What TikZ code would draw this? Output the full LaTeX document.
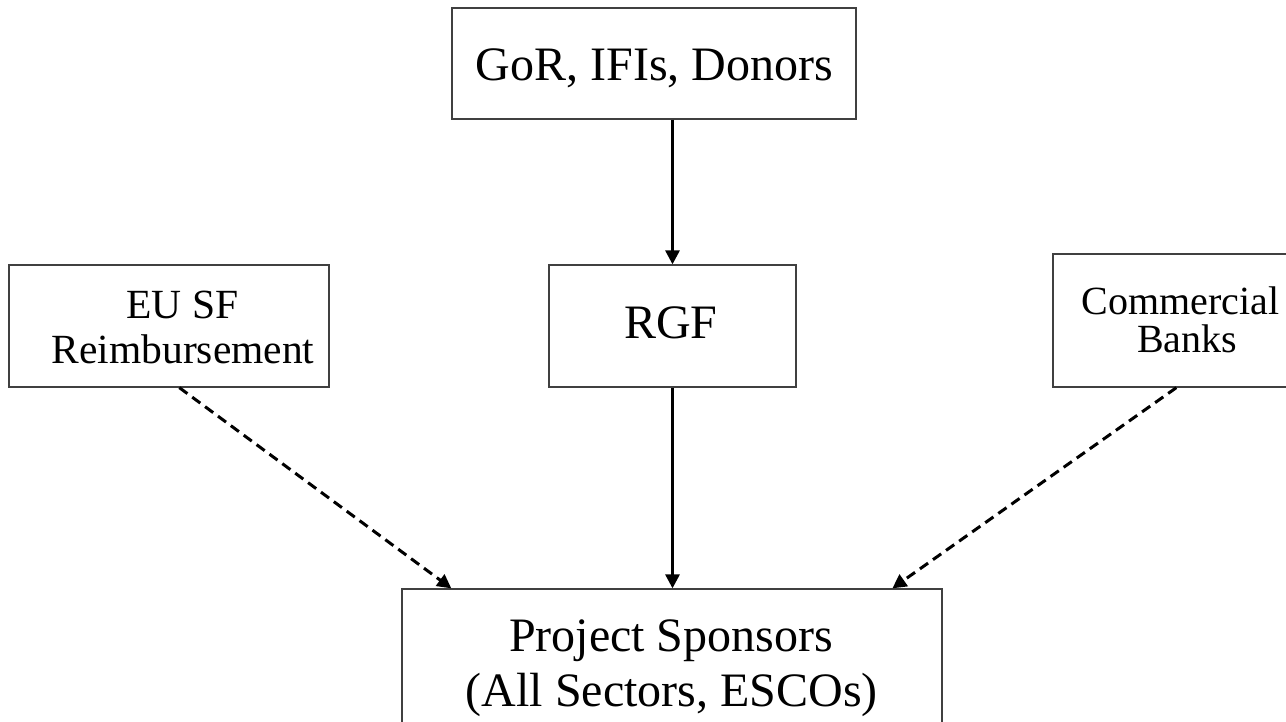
\documentclass[tikz,border=0pt]{standalone}
\usepackage{fontspec}
\setmainfont{Liberation Serif}
\usetikzlibrary{arrows.meta,calc}
\tikzset{
  box/.style={draw=black!75, line width=1.3pt, rectangle, inner sep=0pt, fill=none},
  bigtxt/.style={font=\fontsize{48}{55}\selectfont, inner sep=0pt, anchor=base},
  smalltxt/.style={font=\fontsize{40}{45}\selectfont, inner sep=0pt, anchor=base},
  eutxt/.style={font=\fontsize{41.5}{45}\selectfont, inner sep=0pt, anchor=base},
  flow/.style={line width=3pt, -{Triangle[length=14pt,width=14pt]}},
  dflow/.style={line width=3pt, dash pattern=on 10pt off 6pt, -{Triangle[length=14pt,width=14pt]}}
}
\begin{document}
\begin{tikzpicture}[x=1pt,y=-1pt]
\useasboundingbox[fill=white] (0,0) rectangle (1286,721);
% boxes
\node[box, minimum width=404pt, minimum height=111pt] (top) at (654,63.5) {};
\node[box, minimum width=247pt, minimum height=122pt] (rgf) at (672.5,326) {};
\node[box, minimum width=320pt, minimum height=122pt] (eu) at (169,326) {};
\node[box, minimum width=242pt, minimum height=133pt] (cb) at (1174,320.5) {};
\node[box, minimum width=540pt, minimum height=171pt] (ps) at (672,674.5) {};
% texts
\node[bigtxt] (topt) at (654.5,80) {GoR, IFIs, Donors};
\node[bigtxt] (rgft) at (671,338) {RGF};
\node[eutxt] (eut1) at (182.5,318) {EU SF};
\node[eutxt] (eut2) at (183,363) {Reimbursement};
\node[smalltxt] (cbt1) at (1180.5,314) {Commercial};
\node[smalltxt] (cbt2) at (1187,352) {Banks};
\node[bigtxt] (pst1) at (671,651) {Project Sponsors};
\node[bigtxt] (pst2) at (671.7,706.7) {(All Sectors, ESCOs)};
% connectors
\draw[flow] (top.south -| rgf.north) -- (rgf.north);
\draw[flow] (rgf.south) -- (ps.north -| rgf.south);
\draw[dflow] ([xshift=171pt]eu.south west) -- ([xshift=50pt]ps.north west);
\draw[dflow] ([xshift=124pt]cb.south west) -- ([xshift=491pt]ps.north west);
\end{tikzpicture}
\end{document}
